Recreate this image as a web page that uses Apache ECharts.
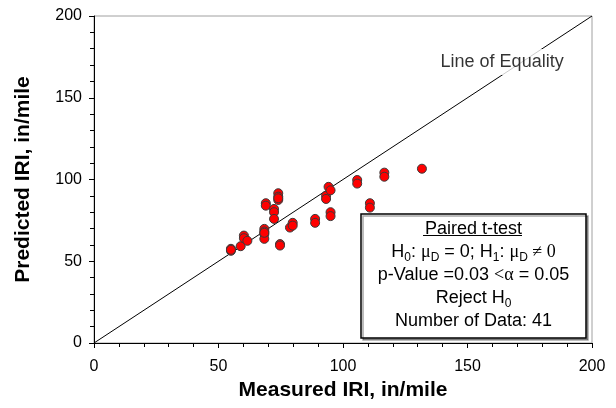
<!DOCTYPE html>
<html>
<head>
<meta charset="utf-8">
<script src="https://cdn.jsdelivr.net/npm/echarts@6/dist/echarts.min.js"></script>
<style>
html,body{margin:0;padding:0;background:#fff;}
#c{width:616px;height:408px;}
</style>
</head>
<body>
<div id="c"></div>
<script>
// Data
const measured = [55.0, 55.0, 58.9, 60.2, 60.2, 61.6, 68.4, 68.4, 68.4, 68.4,
  69.0, 69.0, 72.3, 72.3, 72.3, 74.0, 74.0, 74.0, 74.7, 74.7,
  78.7, 79.8, 79.8, 88.8, 88.8, 93.2, 93.2, 94.2, 95.0, 95.0,
  95.0, 105.7, 105.7, 116.6, 116.6, 131.7, 110.8, 110.8, 55.0, 68.4, 74.0];
const predicted = [57.6, 56.4, 59.2, 65.7, 64.1, 62.5, 69.8, 68.2, 66.6, 63.7,
  85.5, 84.0, 82.0, 80.0, 75.9, 91.6, 89.5, 87.5, 60.5, 59.6,
  70.6, 73.5, 71.8, 75.9, 73.5, 90.1, 88.1, 95.5, 93.4, 80.0,
  77.6, 99.7, 97.5, 104.2, 101.7, 106.6, 85.5, 82.8, 57.0, 67.4, 88.5];
const equalityLine = [[0, 0], [200, 200]];
const equalityLabel = 'Line of Equality';
const equalityLabelAt = [163.9, 171.8];
const xTitle = 'Measured IRI, in/mile';
const yTitle = 'Predicted IRI, in/mile';
const axisMin = 0, axisMax = 200, axisStep = 50;
const boxText = '{n|Paired t-test}\n' +
  '{n|H}{s|0}{n|: }{g|\u03BC}{s|D}{n| = 0; H}{s|1}{n|: }{g|\u03BC}{s|D}{g| \u2260 0}\n' +
  '{n|p-Value =0.03 }{g|<\u03B1}{n| = 0.05}\n' +
  '{n|Reject H}{s|0}\n' +
  '{n|Number of Data: 41}';

const FONT = '"Liberation Sans", Arial, sans-serif';
const SERIF = '"Liberation Serif", "Times New Roman", serif';

const points = measured.map((m, i) => [m, predicted[i]]);

const axisCommon = {
  type: 'value', min: axisMin, max: axisMax, interval: axisStep,
  nameLocation: 'middle',
  nameTextStyle: { fontFamily: FONT, fontSize: 21, fontWeight: 'bold', color: '#000' },
  axisLine: { show: true, lineStyle: { color: '#000', width: 1 } },
  axisTick: { show: true, inside: false, length: 5, lineStyle: { color: '#000' } },
  minorTick: { show: true, splitNumber: 5, length: 4, lineStyle: { color: '#000' } },
  splitLine: { show: false },
  axisLabel: { fontFamily: FONT, fontSize: 16, color: '#000' }
};

const chart = echarts.init(document.getElementById('c'), null, { renderer: 'canvas' });
chart.setOption({
  animation: false,
  backgroundColor: '#fff',
  grid: { left: 94, top: 16, right: 24, bottom: 65, show: true, borderColor: '#a0a0a0', borderWidth: 1, backgroundColor: 'transparent' },
  xAxis: Object.assign({}, axisCommon, {
    name: xTitle, nameGap: 34,
    axisLabel: Object.assign({}, axisCommon.axisLabel, { margin: 16 })
  }),
  yAxis: Object.assign({}, axisCommon, {
    name: yTitle, nameGap: 60,
    axisLabel: Object.assign({}, axisCommon.axisLabel, { margin: 12 })
  }),
  series: [
    {
      type: 'line', data: equalityLine, symbol: 'none', silent: true, z: 2,
      lineStyle: { color: '#000', width: 1 }
    },
    {
      type: 'scatter', data: [equalityLabelAt], symbolSize: 0, z: 3, silent: true,
      label: {
        show: true, position: 'inside', formatter: equalityLabel,
        fontFamily: FONT, fontSize: 18, color: '#000',
        backgroundColor: '#fff', padding: [4, 1]
      }
    },
    {
      type: 'scatter', data: points, symbol: 'circle', symbolSize: 9, z: 4,
      itemStyle: { color: '#ff0000', borderColor: '#3a3a3a', borderWidth: 1, opacity: 1 }
    }
  ],
  graphic: [
    {
      type: 'rect', z: 10,
      shape: { x: 361, y: 214, width: 225, height: 124 },
      style: { fill: '#fff', stroke: '#000', lineWidth: 1.5, shadowColor: 'rgba(0,0,0,0.35)', shadowOffsetX: 2, shadowOffsetY: 2, shadowBlur: 0 }
    },
    {
      type: 'text', z: 11, x: 473.5, y: 275,
      style: {
        text: boxText, align: 'center', verticalAlign: 'middle',
        rich: {
          n: { fontFamily: FONT, fontSize: 18, color: '#000', lineHeight: 23 },
          g: { fontFamily: SERIF, fontSize: 18, color: '#000', lineHeight: 23 },
          s: { fontFamily: FONT, fontSize: 12, color: '#000', lineHeight: 14, verticalAlign: 'bottom' }
        }
      }
    },
    {
      type: 'line', z: 11,
      shape: { x1: 423, y1: 235.5, x2: 522, y2: 235.5 },
      style: { stroke: '#000', lineWidth: 1 }
    }
  ]
});
</script>
</body>
</html>
